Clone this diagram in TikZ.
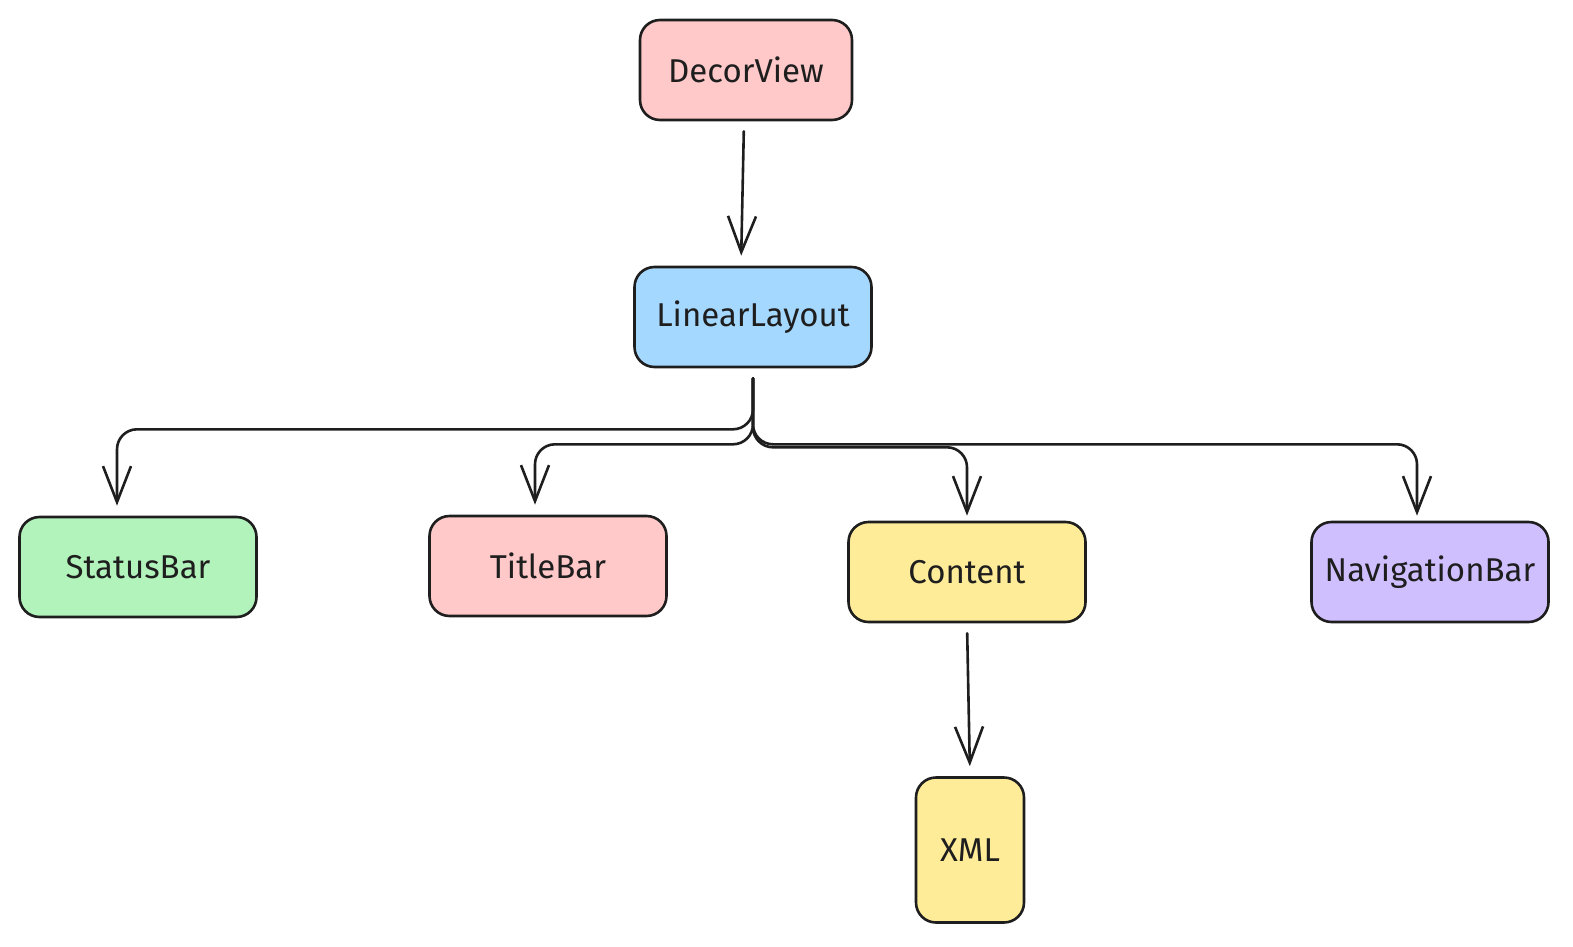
\documentclass[tikz,border=0pt]{standalone}
\usepackage{fontspec}
\setmainfont{Fira Sans}
\usetikzlibrary{arrows.meta}

\definecolor{boxpink}{HTML}{FFC9C9}
\definecolor{boxblue}{HTML}{A5D8FF}
\definecolor{boxgreen}{HTML}{B2F2BB}
\definecolor{boxyellow}{HTML}{FFEC99}
\definecolor{boxviolet}{HTML}{D0BFFF}
\definecolor{inkgray}{HTML}{1E1E1E}

\begin{document}
\begin{tikzpicture}[x=0.5pt, y=-0.5pt, line width=1.3pt,
		viewbox/.style={draw=inkgray, rounded corners=10pt, minimum width=118.5pt, minimum height=50pt, inner sep=0pt, font=\fontsize{16.5}{20}\selectfont, text=inkgray},
		link/.style={draw=inkgray, line cap=round, rounded corners=10pt, -{Straight Barb[length=18pt,width=14pt,line width=1.3pt]}, shorten <=5pt, shorten >=5pt}]
	
	\useasboundingbox (0,0) rectangle (1573,947);
	
	\node[viewbox, fill=boxpink, minimum width=106pt] (decor) at (746,70) {DecorView};
	\node[viewbox, fill=boxblue] (linear) at (753,317) {LinearLayout};
	\node[viewbox, fill=boxgreen] (status) at (138,567) {StatusBar};
	\node[viewbox, fill=boxpink] (title) at (548,566) {TitleBar};
	\node[viewbox, fill=boxyellow] (content) at (967,572) {Content};
	\node[viewbox, fill=boxviolet] (nav) at (1430,572) {NavigationBar};
	\node[viewbox, fill=boxyellow, minimum width=54pt, minimum height=72.5pt] (xml) at (970,850) {XML};
	
	\draw[link] ([xshift=-1pt]decor.south) -- ([xshift=-6pt]linear.north);
	\draw[link] (linear.south) -- ++(0,61) -| ([xshift=-10.5pt]status.north);
	\draw[link] (linear.south) -- ++(0,76) -| ([xshift=-6.5pt]title.north);
	\draw[link, shorten >=2.5pt] (linear.south) -- ++(0,79) -| (content.north);
	\draw[link, shorten >=2.5pt] (linear.south) -- ++(0,76) -| ([xshift=-6.5pt]nav.north);
	\draw[link] (content.south) -- (xml.north);
	
\end{tikzpicture}
\end{document}
